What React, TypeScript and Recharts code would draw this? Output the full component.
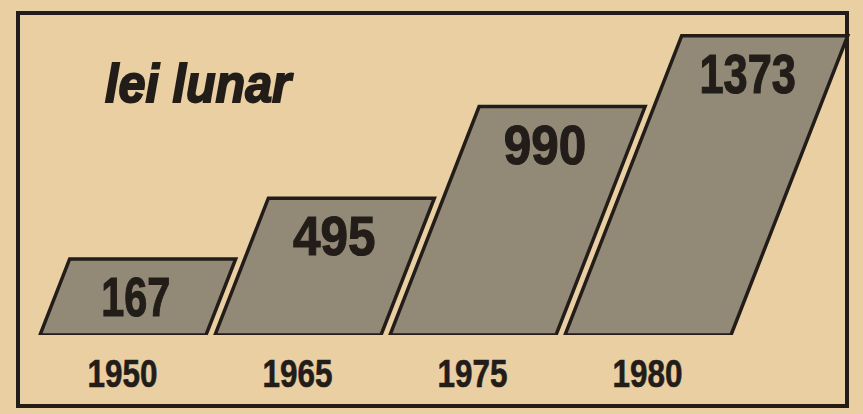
// Monthly earnings slab chart ("lei lunar") - Recharts BarChart with
// custom parallelogram shapes, styled like an old newsprint graphic.

import { BarChart, Bar, XAxis, YAxis } from "recharts";

const YEARS = ["1950", "1965", "1975", "1980"];
const LEI = [167, 495, 990, 1373];

const PAPER = "#eacfa3";
const SLAB = "#938977";
const INK = "#221d19";

const W = 863;
const H = 414;
const MARGIN = { top: 34, right: 128, bottom: 19, left: 35 };
const XAXIS_H = 60;
const PLOT_BOTTOM = H - MARGIN.bottom - XAXIS_H;
const SLANT = 0.39;

const data = YEARS.map((year, i) => ({ year, lei: LEI[i] }));

// narrow condensed digits: "1" is thin, the rest are wider
function digitsWidth(s: string): number {
  let w = 0;
  for (const ch of s) w += ch === "1" ? 14 : 27.5;
  return w;
}

function Slab(props: any) {
  const { x, y, width, background, value } = props;
  const bottom = background ? background.y + background.height : PLOT_BOTTOM;
  const h = bottom - y;
  const s = h * SLANT;
  const pts = `${x},${bottom} ${x + width},${bottom} ${x + width + s},${y} ${x + s},${y}`;
  const label = String(Array.isArray(value) ? value[1] : value);
  const cx = x + width / 2 + s - 17;
  return (
    <g>
      <polygon points={pts} fill={SLAB} stroke={INK} strokeWidth={3.5} strokeLinejoin="miter" />
      <text
        x={cx}
        y={y + 57}
        textAnchor="middle"
        fontFamily="'Liberation Sans', Arial, sans-serif"
        fontWeight="bold"
        fontSize={56}
        fill={INK}
        stroke={INK}
        strokeWidth={1.2}
        textLength={digitsWidth(label)}
        lengthAdjust="spacingAndGlyphs"
      >
        {label}
      </text>
    </g>
  );
}

function YearTick(props: any) {
  const { x, y, payload } = props;
  return (
    <text
      x={x}
      y={y + 44}
      textAnchor="middle"
      fontFamily="'Liberation Sans', Arial, sans-serif"
      fontWeight="bold"
      fontSize={38}
      fill={INK}
      stroke={INK}
      strokeWidth={0.6}
      textLength={70}
      lengthAdjust="spacingAndGlyphs"
    >
      {payload.value}
    </text>
  );
}

export default function App() {
  return (
    <div
      style={{
        position: "absolute",
        left: 0,
        top: 0,
        width: W,
        height: H,
        background: PAPER,
        overflow: "hidden",
      }}
    >
      {/* frame */}
      <div
        style={{
          position: "absolute",
          left: 16,
          top: 11,
          width: 833,
          height: 397,
          border: `4px solid ${INK}`,
          boxSizing: "border-box",
        }}
      />
      <BarChart width={W} height={H} data={data} margin={MARGIN} barSize={166}>
        <XAxis
          dataKey="year"
          axisLine={false}
          tickLine={false}
          height={XAXIS_H}
          interval={0}
          tick={<YearTick />}
        />
        <YAxis hide domain={[-244, 1382]} allowDataOverflow />
        <Bar dataKey="lei" shape={<Slab />} isAnimationActive={false} />
      </BarChart>
      {/* title */}
      <svg
        width={W}
        height={H}
        style={{ position: "absolute", left: 0, top: 0, pointerEvents: "none" }}
      >
        <text
          x={105}
          y={102}
          fontFamily="'Liberation Sans', Arial, sans-serif"
          fontWeight="bold"
          fontStyle="italic"
          fontSize={54}
          fill={INK}
          stroke={INK}
          strokeWidth={2}
          textLength={186}
          lengthAdjust="spacingAndGlyphs"
        >
          lei lunar
        </text>
      </svg>
    </div>
  );
}
